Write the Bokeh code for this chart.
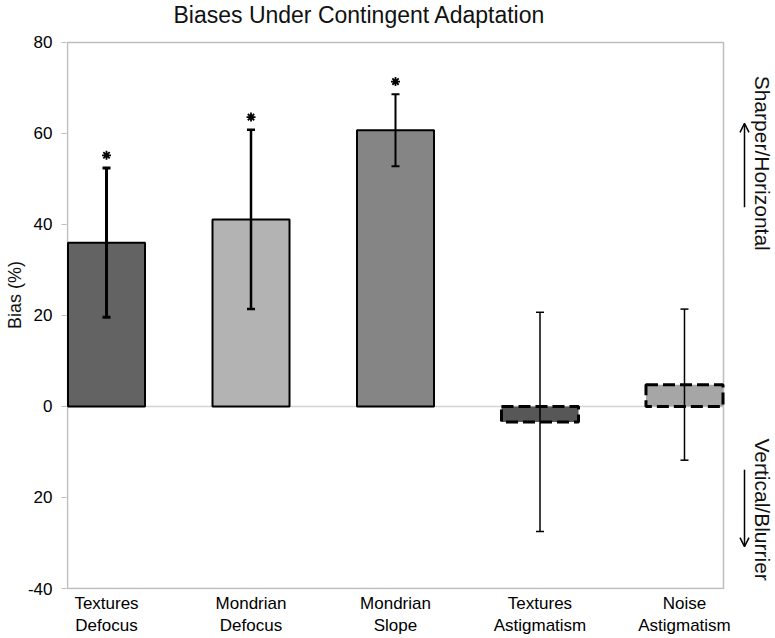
import math
from bokeh.plotting import figure
from bokeh.models import (ColumnDataSource, Range1d, FixedTicker, Label,
                          Arrow, OpenHead, CDSView, IndexFilter)
from bokeh.embed import file_html
from bokeh.resources import INLINE

# ---------------- data ----------------
title_text = "Biases Under Contingent Adaptation"
y_axis_title = "Bias (%)"
upper_note = "Sharper/Horizontal"
lower_note = "Vertical/Blurrier"
categories = ["Textures\nDefocus", "Mondrian\nDefocus", "Mondrian\nSlope",
              "Textures\nAstigmatism", "Noise\nAstigmatism"]
bias = [36.0, 41.1, 60.7, -3.4, 4.8]
err = [16.4, 19.7, 7.9, 24.1, 16.6]
significant = [True, True, True, False, False]
y_ticks = [-40, -20, 0, 20, 40, 60, 80]
y_tick_labels = ["-40", "20", "0", "20", "40", "60", "80"]

# ---------------- styles / geometry ----------------
bar_colors = ["#636363", "#b3b3b3", "#858585", "#575757", "#a6a6a6"]
err_widths = [3, 2.5, 2, 1.5, 1.5]
FONT = "Liberation Sans"
GRAY = "#bdbdbd"

W, H = 775, 638
BOX_X = (-0.27, 4.27)          # visible plot box (data)
BOX_Y = (-40, 80)
BOX_PX = (67, 723, 42, 589)    # left, right, top, bottom of the box on the page
SX = (BOX_PX[1] - BOX_PX[0]) / (BOX_X[1] - BOX_X[0])
SY = (BOX_PX[3] - BOX_PX[2]) / (BOX_Y[1] - BOX_Y[0])
ML, MT, MR, MB = 66, 0, 0, 48
XR = (BOX_X[0] - (BOX_PX[0] - ML) / SX, BOX_X[0] + (W - MR - BOX_PX[0]) / SX)
YR = (BOX_Y[0] - (H - MB - BOX_PX[3]) / SY, BOX_Y[1] + (BOX_PX[2] - MT) / SY)


def dx(px):
    return BOX_X[0] + (px - BOX_PX[0]) / SX


def dy(py):
    return BOX_Y[1] - (py - BOX_PX[2]) / SY


n = len(categories)
xs = list(range(n))
upper = [b + e for b, e in zip(bias, err)]
lower = [b - e for b, e in zip(bias, err)]

src = ColumnDataSource(dict(x=xs, top=bias, color=bar_colors,
                            upper=upper, lower=lower, lw=err_widths))

p = figure(width=W, height=H, output_backend="svg", toolbar_location=None,
           title=None, x_range=Range1d(*XR), y_range=Range1d(*YR),
           min_border_left=ML, min_border_right=MR,
           min_border_top=MT, min_border_bottom=MB,
           background_fill_color="white", border_fill_color="white",
           outline_line_color=None)
p.xgrid.visible = False
p.ygrid.visible = False

# y axis
p.yaxis.ticker = FixedTicker(ticks=y_ticks)
p.yaxis.major_label_overrides = dict(zip(y_ticks, y_tick_labels))
p.yaxis.major_tick_in = 0
p.yaxis.major_tick_out = 5
p.yaxis.minor_tick_in = 0
p.yaxis.minor_tick_out = 0
p.yaxis.major_tick_line_color = GRAY
p.yaxis.axis_line_color = None
p.yaxis.major_label_text_font = FONT
p.yaxis.major_label_text_font_size = "17px"
p.yaxis.major_label_text_color = "black"
p.yaxis.major_label_standoff = 9
p.yaxis.axis_label = y_axis_title
p.yaxis.axis_label_text_font = FONT
p.yaxis.axis_label_text_font_size = "18px"
p.yaxis.axis_label_text_font_style = "normal"
p.yaxis.axis_label_text_color = "#111111"
p.yaxis.axis_label_standoff = 0

# x axis
p.xaxis.ticker = FixedTicker(ticks=xs)
p.xaxis.major_label_overrides = {i: c for i, c in zip(xs, categories)}
p.xaxis.major_tick_in = 0
p.xaxis.major_tick_out = 0
p.xaxis.minor_tick_in = 0
p.xaxis.minor_tick_out = 0
p.xaxis.axis_line_color = None
p.xaxis.major_label_text_font = FONT
p.xaxis.major_label_text_font_size = "17px"
p.xaxis.major_label_text_color = "black"
p.xaxis.major_label_standoff = 4

# plot box and zero line
p.quad(left=BOX_X[0], right=BOX_X[1], bottom=BOX_Y[0], top=BOX_Y[1],
       fill_color=None, line_color=GRAY, line_width=1.5)
p.segment(x0=BOX_X[0], x1=BOX_X[1], y0=0, y1=0, line_color="#d4d4d4",
          line_width=1.5)

# bars
solid_idx = [i for i in xs if significant[i]]
dashed_idx = [i for i in xs if not significant[i]]
p.vbar(x="x", top="top", bottom=0, width=0.533, fill_color="color",
       line_color="black", line_width=2, source=src,
       view=CDSView(filter=IndexFilter(solid_idx)))
p.vbar(x="x", top="top", bottom=0, width=0.533, fill_color="color",
       line_color="black", line_width=3, line_dash="12 5", source=src,
       view=CDSView(filter=IndexFilter(dashed_idx)))

# error bars
p.segment(x0="x", y0="lower", x1="x", y1="upper", line_width="lw",
          line_color="black", source=src)
p.scatter(x="x", y="upper", marker="dash", size=8, line_width="lw",
          line_color="black", source=src)
p.scatter(x="x", y="lower", marker="dash", size=8, line_width="lw",
          line_color="black", source=src)

# significance stars
star_src = ColumnDataSource(dict(x=[xs[i] for i in solid_idx],
                                 y=[upper[i] + 2.8 for i in solid_idx]))
p.scatter(x="x", y="y", marker="asterisk", size=9, line_width=1.8,
          line_color="black", source=star_src)

# title & side notes
p.add_layout(Label(x=dx(359), y=dy(14.5), text=title_text, text_align="center",
                   text_baseline="middle", text_font=FONT,
                   text_font_size="23px", text_color="#111111"))
p.add_layout(Label(x=dx(762), y=dy(163), text=upper_note, angle=-math.pi / 2,
                   text_align="center", text_baseline="middle",
                   text_font=FONT, text_font_size="21px", text_color="#111111"))
p.add_layout(Label(x=dx(762), y=dy(510), text=lower_note, angle=-math.pi / 2,
                   text_align="center", text_baseline="middle",
                   text_font=FONT, text_font_size="21px", text_color="#111111"))
p.add_layout(Arrow(x_start=dx(744), y_start=dy(207), x_end=dx(744), y_end=dy(123),
                   end=OpenHead(size=9, line_width=1.5), line_width=1.5,
                   line_color="black"))
p.add_layout(Arrow(x_start=dx(744), y_start=dy(470), x_end=dx(744), y_end=dy(547),
                   end=OpenHead(size=9, line_width=1.5), line_width=1.5,
                   line_color="black"))

open("out.html", "w").write(file_html(p, INLINE))
